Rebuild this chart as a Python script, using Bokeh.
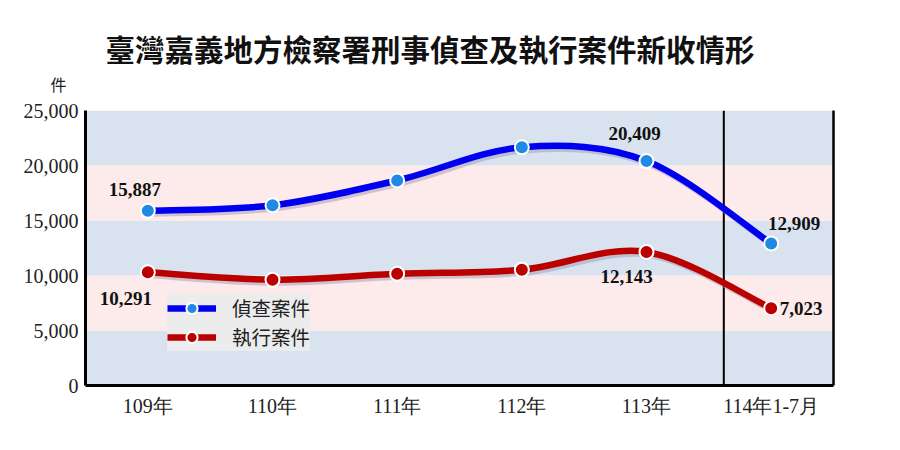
from bokeh.plotting import figure
from bokeh.models import (ColumnDataSource, Range1d, FixedTicker, BoxAnnotation, Span,
                          Label, Legend, LegendItem, NumeralTickFormatter, LinearAxis, Title)
from bokeh.embed import file_html
from bokeh.resources import INLINE

# ---------------- data ----------------
categories = ["109年", "110年", "111年", "112年", "113年", "114年1-7月"]
investigation = [15887, 16380, 18640, 21650, 20409, 12909]
execution = [10291, 9620, 10160, 10520, 12143, 7023]
series_names = ["偵查案件", "執行案件"]
y_ticks = [0, 5000, 10000, 15000, 20000, 25000]
title_text = "臺灣嘉義地方檢察署刑事偵查及執行案件新收情形"
unit_text = "件"
band_edges = [0, 5000, 10000, 15000, 20000, 25000]
label_idx = [0, 4, 5]

xs = list(range(len(categories)))

BLUE_LINE = "#0000f0"
BLUE_MARK = "#1e8ae6"
RED_LINE = "#bb0000"
RED_MARK = "#bb0000"
BAND_BLUE = "#d9e3ef"
BAND_PINK = "#fdeaea"

W, H = 880, 430
p = figure(width=W, height=H, output_backend="svg", toolbar_location=None,
           x_range=Range1d(-0.5, 5.5), y_range=Range1d(0, 25000),
           min_border_left=85, min_border_right=47, min_border_top=110, min_border_bottom=45)
p.background_fill_color = "white"
p.border_fill_color = "white"
p.outline_line_color = None
p.grid.visible = False

# background bands
for i in range(len(band_edges) - 1):
    col = BAND_BLUE if i % 2 == 0 else BAND_PINK
    p.add_layout(BoxAnnotation(bottom=band_edges[i], top=band_edges[i + 1],
                               fill_color=col, fill_alpha=1.0, line_color=None, level="underlay"))

# separator line between full years and partial year
p.add_layout(Span(location=4.62, dimension="height", line_color="black", line_width=2, level="underlay"))


def bezier_source(x, y, dx=0.0, dy=0.0, t=6.0):
    n = len(x)
    d = dict(x0=[], y0=[], x1=[], y1=[], cx0=[], cy0=[], cx1=[], cy1=[])
    for i in range(n - 1):
        a = i - 1 if i > 0 else i
        b = i + 2 if i + 2 < n else i + 1
        d["x0"].append(x[i] + dx); d["y0"].append(y[i] + dy)
        d["x1"].append(x[i + 1] + dx); d["y1"].append(y[i + 1] + dy)
        d["cx0"].append(x[i] + (x[i + 1] - x[a]) / t + dx)
        d["cy0"].append(y[i] + (y[i + 1] - y[a]) / t + dy)
        d["cx1"].append(x[i + 1] - (x[b] - x[i]) / t + dx)
        d["cy1"].append(y[i + 1] - (y[b] - y[i]) / t + dy)
    return ColumnDataSource(d)


items = []
for vals, name, lc, mc in [(investigation, series_names[0], BLUE_LINE, BLUE_MARK),
                           (execution, series_names[1], RED_LINE, RED_MARK)]:
    # soft shadow
    p.bezier(x0="x0", y0="y0", x1="x1", y1="y1", cx0="cx0", cy0="cy0", cx1="cx1", cy1="cy1",
             source=bezier_source(xs, vals, dx=0.02, dy=-280), line_color="#9a90b0",
             line_alpha=0.45, line_width=6)
    br = p.bezier(x0="x0", y0="y0", x1="x1", y1="y1", cx0="cx0", cy0="cy0", cx1="cx1", cy1="cy1",
                  source=bezier_source(xs, vals), line_color=lc, line_width=6.5)
    sr = p.scatter(xs, vals, size=14, fill_color=mc, line_color="white", line_width=2)
    items.append(LegendItem(label=name, renderers=[br, sr]))

# data labels
offsets_blue = [(-13, 21), (-12, 28), (23, 20)]
offsets_red = [(-22, -26), (-20, -25), (30, 0)]
for vals, offs in [(investigation, offsets_blue), (execution, offsets_red)]:
    for k, i in enumerate(label_idx):
        p.add_layout(Label(x=xs[i], y=vals[i], text=f"{vals[i]:,}", x_offset=offs[k][0],
                           y_offset=offs[k][1], text_align="center", text_baseline="middle",
                           text_font="Liberation Serif", text_font_style="bold",
                           text_font_size="19px", text_color="#111111"))

# unit label (closest to frame) and main title
p.add_layout(Title(text=unit_text, align="left", offset=-35, standoff=30,
                   text_font="Noto Sans CJK TC", text_font_style="normal",
                   text_font_size="16px", text_color="#222222"), "above")
p.add_layout(Title(text=title_text, align="left", offset=20, standoff=-28,
                   text_font="Noto Sans CJK TC", text_font_style="bold",
                   text_font_size="29.5px", text_color="#111111"), "above")

# legend
legend = Legend(items=items, location=(82, 34), orientation="vertical",
                background_fill_color="#ececec", background_fill_alpha=0.95,
                border_line_color=None, padding=10, spacing=0, margin=0,
                glyph_width=49, glyph_height=28, label_height=28, label_standoff=16,
                label_text_font="Noto Sans CJK TC", label_text_font_size="19.5px",
                label_text_color="#222222")
p.add_layout(legend)

# axes
p.xaxis.ticker = FixedTicker(ticks=xs)
p.xaxis.major_label_overrides = {i: c for i, c in enumerate(categories)}
p.yaxis.ticker = FixedTicker(ticks=y_ticks)
p.yaxis.formatter = NumeralTickFormatter(format="0,0")
for ax in [p.xaxis[0], p.yaxis[0]]:
    ax.axis_line_color = "black"
    ax.axis_line_width = 3
    ax.major_tick_line_color = None
    ax.minor_tick_line_color = None
    ax.major_label_text_font = "Liberation Serif"
    ax.major_label_text_font_size = "20px"
    ax.major_label_text_color = "#222222"
p.yaxis.major_label_standoff = 1
p.xaxis.major_label_standoff = 3

right = LinearAxis(ticker=FixedTicker(ticks=[]), axis_line_color="black", axis_line_width=2.5,
                   major_tick_line_color=None, minor_tick_line_color=None,
                   major_label_text_font_size="0px")
p.add_layout(right, "right")

open("out.html", "w").write(file_html(p, INLINE))
